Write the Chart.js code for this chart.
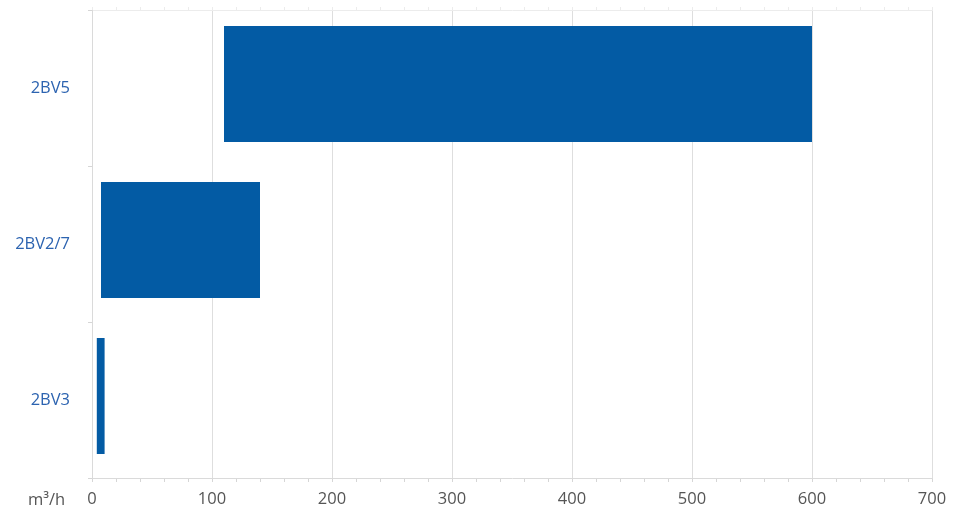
<!DOCTYPE html>
<html>
<head>
<meta charset="utf-8">
<script src="https://cdn.jsdelivr.net/npm/chart.js@4.4.0/dist/chart.umd.min.js"></script>
<style>
  html, body { margin: 0; padding: 0; background: #fff; }
  #wrap { position: relative; width: 970px; height: 524px; }
  #unit { position: absolute; left: 28px; top: 487px; font: 16.5px "Open Sans", sans-serif; color: #555; }
</style>
</head>
<body>
<div id="wrap">
  <canvas id="myChart" width="970" height="524"></canvas>
  <div id="unit">m³/h</div>
</div>
<script>
// pump types and their flow range (m3/h)
const categories = ["2BV5", "2BV2/7", "2BV3"];
const flowMin = [110, 7.5, 4];
const flowMax = [600, 140, 10.5];
const xTicks = [0, 100, 200, 300, 400, 500, 600, 700];

const ranges = [];
for (let i = 0; i < categories.length; i++) {
    ranges.push([flowMin[i], flowMax[i]]);
}

// bars in the original sit a few px above the category centre
const nudgeBars = {
    id: 'nudgeBars',
    beforeDatasetsDraw: function (chart) { chart.ctx.save(); chart.ctx.translate(0, -4); },
    afterDatasetsDraw: function (chart) { chart.ctx.restore(); }
};

var ctx = document.getElementById('myChart').getContext('2d');
var chart = new Chart(ctx, {
    type: 'bar',
    data: {
        labels: categories,
        datasets: [{
            data: ranges,
            backgroundColor: '#035ba4',
            borderWidth: 0,
            barPercentage: 0.745,
            categoryPercentage: 1
        }]
    },
    plugins: [nudgeBars],
    options: {
        indexAxis: 'y',
        responsive: false,
        animation: false,
        layout: { padding: { left: 0, right: 38, top: 0, bottom: 0 } },
        plugins: { legend: { display: false }, tooltip: { enabled: false } },
        scales: {
            x: {
                position: 'bottom',
                min: 0,
                max: 700,
                afterFit: function (scale) { scale.height = 46; scale.paddingLeft = 0; scale.paddingRight = 0; },
                ticks: {
                    stepSize: 20,
                    autoSkip: false,
                    maxRotation: 0,
                    padding: 7,
                    color: '#555',
                    font: { family: 'Open Sans', size: 16.5 },
                    callback: function (v) { return xTicks.includes(v) ? String(v) : ''; }
                },
                grid: {
                    color: function (c) { return c.tick && c.tick.value % 100 === 0 ? '#dedede' : 'rgba(0,0,0,0)'; },
                    tickColor: '#d6d6d6',
                    tickLength: 4
                },
                border: { color: '#dadada' }
            },
            xTop: {
                position: 'top',
                min: 0,
                max: 700,
                afterFit: function (scale) { scale.height = 10; },
                ticks: { display: false, stepSize: 20 },
                grid: { drawOnChartArea: false, tickLength: 3, tickColor: '#ececec' },
                border: { color: '#ececec' }
            },
            y: {
                afterFit: function (scale) { scale.width = 92; scale.paddingTop = 0; scale.paddingBottom = 0; },
                ticks: {
                    padding: 18,
                    color: '#2c63b0',
                    font: { family: 'Open Sans', size: 16.5 }
                },
                grid: { drawOnChartArea: false, tickLength: 4, tickColor: '#d6d6d6' },
                border: { color: '#dadada' }
            }
        }
    }
});
</script>
</body>
</html>
